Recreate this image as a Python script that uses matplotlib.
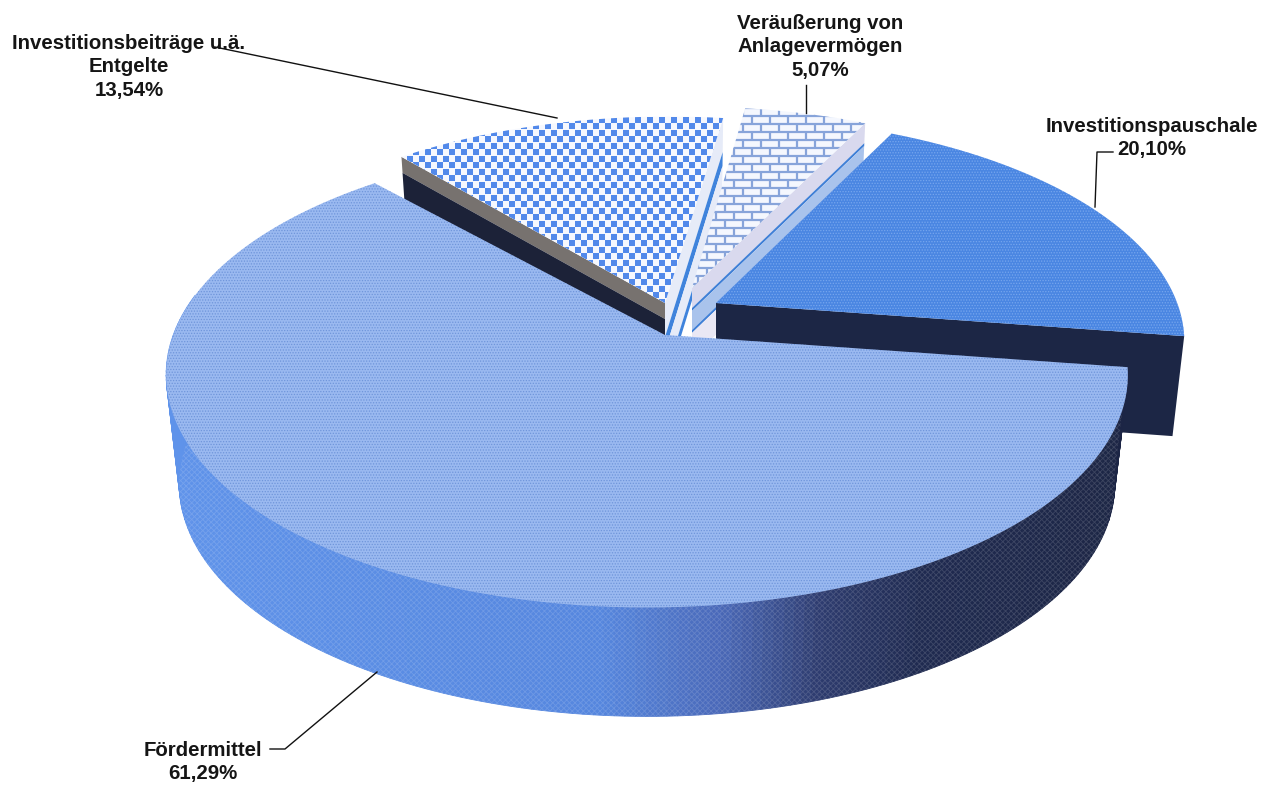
import numpy as np
import matplotlib
matplotlib.use("Agg")
import matplotlib.pyplot as plt
from matplotlib.patches import Polygon
from matplotlib.colors import to_rgb

# ---------- data ----------
names = ["Fördermittel", "Investitionsbeiträge u.ä.\nEntgelte",
         "Veräußerung von\nAnlagevermögen", "Investitionspauschale"]
values = [61.29, 13.54, 5.07, 20.10]

# ---------- view / slice styling ----------
START = -8.5
A, B, P = 473.0, 225.0, 0.18
DEPTH = 100
MAIN_DEPTH = 109
arc_center = [(647, 333), (669, 304), (692, 291), (716, 303)]
apex = [(665, 335), (665, 303), (692, 288), (716, 303)]
radius = [(1.0, 1.0), (0.98, 0.98), (0.96, 0.96), (0.975, 0.97)]

plt.rcParams["font.family"] = ["Liberation Sans", "DejaVu Sans"]
plt.rcParams["hatch.linewidth"] = 0.6

fig = plt.figure(figsize=(12.81, 7.85), dpi=100)
ax = fig.add_axes([0, 0, 1, 1])
ax.set_xlim(0, 1281)
ax.set_ylim(785, 0)
ax.axis("off")


def project(theta, idx, depth=0.0):
    t = np.radians(np.atleast_1d(theta))
    rx, ry = radius[idx]
    c, s = rx * np.cos(t), ry * np.sin(t)
    w = 1 + P * s
    shrink = 1 - 0.025 * depth / DEPTH
    x = arc_center[idx][0] + A * c / w * shrink
    y = arc_center[idx][1] - B * s / w + depth
    return np.column_stack([x, y])


def top_poly(t0, t1, idx):
    arc = project(np.linspace(t0, t1, 200), idx)
    return np.vstack([[apex[idx]], arc])


def cut_face(t, idx, d0, d1):
    """Band of the straight wall under the slice edge at angle t."""
    a = np.array(apex[idx], float)
    return np.array([a + (0, d0), project(t, idx, d0)[0],
                     project(t, idx, d1)[0], a + (0, d1)])


# angles: clockwise from START
spans = np.array(values) / sum(values) * 360
edges = START - np.concatenate([[0], np.cumsum(spans)])
bounds = [(edges[i], edges[i + 1]) for i in range(4)]

# --- Investitionsbeiträge ---
t0, t1 = bounds[1]
ax.add_patch(Polygon(cut_face(t0, 1, 0, 16), fc="#77726f", ec="none", zorder=1))
ax.add_patch(Polygon(cut_face(t0, 1, 16, 45), fc="#1c2238", ec="none", zorder=1))
# right wall strip
ax.add_patch(Polygon(cut_face(t1, 1, 0, 34), fc="#e6ebf8", ec="none", zorder=1))
ax.add_patch(Polygon(cut_face(t1, 1, 34, 48), fc="#3f83dc", ec="none", zorder=1))
ax.add_patch(Polygon(cut_face(t1, 1, 48, 75), fc="#e6ebf8", ec="none", zorder=1))
ax.add_patch(Polygon(cut_face(t1, 1, 75, 85), fc="#3f83dc", ec="none", zorder=1))
poly = Polygon(top_poly(t0, t1, 1), fc="#f6f8fe", ec="none", zorder=2)
ax.add_patch(poly)
gx, gy = np.meshgrid(np.arange(380, 740, 12.0), np.arange(100, 320, 13.0))
sq1 = ax.scatter(gx.ravel(), gy.ravel(), s=15, marker="s", c="#5289ea", lw=0, zorder=3)
sq2 = ax.scatter(gx.ravel() + 6, gy.ravel() + 6.5, s=15, marker="s", c="#5289ea", lw=0, zorder=3)
sq1.set_clip_path(poly)
sq2.set_clip_path(poly)

# --- Veräußerung ---
t0, t1 = bounds[2]
ax.add_patch(Polygon(cut_face(t1, 2, 0, 20), fc="#d9d9ee", ec="none", zorder=4))
ax.add_patch(Polygon(cut_face(t1, 2, 20, 23), fc="#3f7fd6", ec="none", zorder=4))
ax.add_patch(Polygon(cut_face(t1, 2, 23, 42), fc="#a9c3ec", ec="none", zorder=4))
ax.add_patch(Polygon(cut_face(t1, 2, 42, 45), fc="#3f7fd6", ec="none", zorder=4))
ax.add_patch(Polygon(cut_face(t1, 2, 45, 70), fc="#e9e7f4", ec="none", zorder=4))
poly = Polygon(top_poly(t0, t1, 2), fc="#f4f7fe", ec="none", zorder=5)
ax.add_patch(poly)
rows = np.arange(100, 300, 8.0)
hl = ax.hlines(rows, 680, 880, color="#87a4da", lw=1.6, zorder=6)
hl.set_clip_path(poly)
for k, yy in enumerate(rows):
    xs = np.arange(680 + (k % 2) * 9, 880, 18.0)
    vl = ax.vlines(xs, yy, yy + 8, color="#87a4da", lw=1.6, zorder=6)
    vl.set_clip_path(poly)

# --- Investitionspauschale ---
t0, t1 = bounds[3]
ax.add_patch(Polygon(cut_face(t1, 3, 0, DEPTH), fc="#1c2645", ec="none", zorder=7))
ax.add_patch(Polygon(top_poly(t0, t1, 3), fc="#4a86e2", ec="#76a6ee",
                     hatch="......", lw=0, zorder=8))

# --- Fördermittel ---
t0, t1 = bounds[0]
stops_x = [170, 600, 720, 820, 920, 1130]
stops_c = np.array([to_rgb(c) for c in
                    ["#5f93ea", "#5586de", "#4a68b8", "#2d3b6e", "#1f2a50", "#1c2544"]])
thetas = np.linspace(t0, -190, 170)
for a0, a1 in zip(thetas[:-1], thetas[1:]):
    q = np.vstack([project([a0, a1], 0), project([a1, a0], 0, MAIN_DEPTH)])
    mx = q[:, 0].mean()
    col = [np.interp(mx, stops_x, stops_c[:, i]) for i in range(3)]
    ax.add_patch(Polygon(q, fc=col, ec=col, lw=0.6, zorder=9))
whole = np.vstack([project(thetas, 0), project(thetas[::-1], 0, MAIN_DEPTH)])
ax.add_patch(Polygon(whole, fc="none", ec=(1, 1, 1, 0.14), hatch="xxxxxx", lw=0, zorder=10))
ax.add_patch(Polygon(top_poly(t0, t1, 0), fc="#9ab9f0", ec="#6f95da",
                     hatch="......", lw=0, zorder=11))

# --- leader lines ---
leaders = [([270, 285, 377], [749, 749, 672]),
           ([215, 557], [47, 118]),
           ([806, 806], [85, 113]),
           ([1113, 1097, 1095], [152, 152, 207])]
for lx, ly in leaders:
    ax.plot(lx, ly, color="#111111", lw=1.0, zorder=12)

# --- labels ---
label_pos = [(203, 762), (129, 67), (820, 47), (1152, 138)]
for name, val, (lx, ly) in zip(names, values, label_pos):
    pct = f"{val:.2f}".replace(".", ",") + "%"
    ax.text(lx, ly, name + "\n" + pct, ha="center", va="center", fontsize=14.7,
            fontweight="bold", color="#151515", linespacing=1.3, zorder=13)

fig.savefig("out.png", dpi=100)
